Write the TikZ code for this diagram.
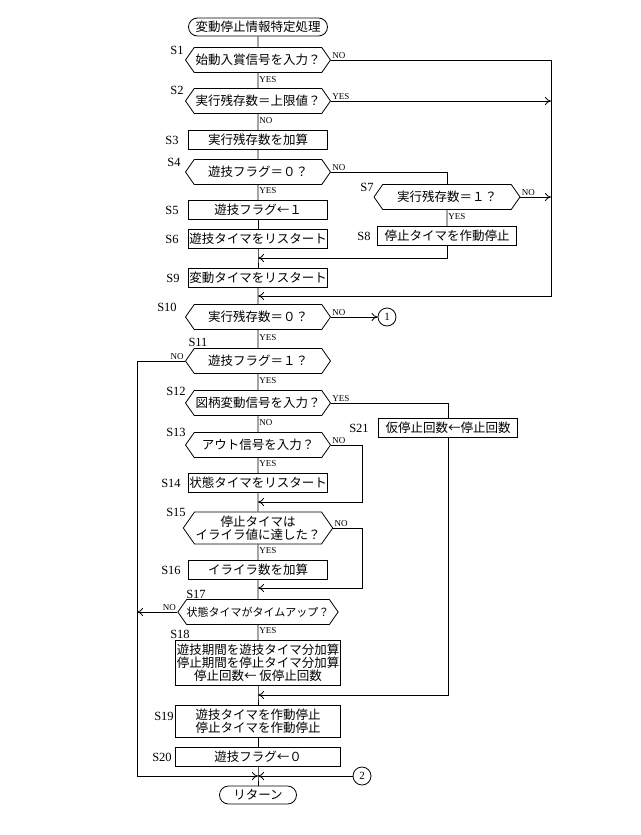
\documentclass[tikz,border=0pt]{standalone}
\usepackage{fontspec}
\setmainfont{Liberation Serif}
\newfontfamily\jp{Noto Sans CJK JP}
\usetikzlibrary{shapes.symbols, arrows.meta}

\tikzset{
	dec/.style={signal, signal to=east and west, signal pointer angle=110, draw, font=\jp\fontsize{12.5}{14}\selectfont, minimum width=145, minimum height=25, inner sep=1, align=center},
	proc/.style={draw, rectangle, font=\jp\fontsize{12.5}{14}\selectfont, minimum width=139, minimum height=19, inner sep=1, align=center},
	term/.style={draw, rectangle, rounded corners=9, font=\jp\fontsize{12.5}{14}\selectfont, minimum height=18, inner sep=1},
	conn/.style={draw, circle, minimum size=18, inner sep=0, font=\fontsize{11}{11}\selectfont},
	yn/.style={font=\fontsize{9}{9}\selectfont, inner sep=1},
	stepno/.style={font=\fontsize{12.5}{12}\selectfont, inner sep=0},
}

\begin{document}
\begin{tikzpicture}[x=1pt, y=-1pt, line width=0.8pt, >={To[length=6pt, width=8pt]}]
	\useasboundingbox (0,0) rectangle (640,835);
	
	\node[term, minimum width=139] (start) at (258,27) {変動停止情報特定処理};
	\node[dec] (s1) at (258,60) {始動入賞信号を入力？};
	\node[dec] (s2) at (258,101) {実行残存数＝上限値？};
	\node[proc] (s3) at (258,140) {実行残存数を加算};
	\node[dec] (s4) at (258,172) {遊技フラグ＝０？};
	\node[proc] (s5) at (258,210) {遊技フラグ←１};
	\node[proc] (s6) at (258,239) {遊技タイマをリスタート};
	\node[dec, minimum width=146] (s7) at (447,197) {実行残存数＝１？};
	\node[proc] (s8) at (447,236) {停止タイマを作動停止};
	\node[proc] (s9) at (258,278) {変動タイマをリスタート};
	\node[dec] (s10) at (258,317) {実行残存数＝０？};
	\node[conn] (c1) at (387,317) {1};
	\node[dec] (s11) at (258,361) {遊技フラグ＝１？};
	\node[dec] (s12) at (258,403) {図柄変動信号を入力？};
	\node[proc] (s21) at (448,428) {仮停止回数←停止回数};
	\node[dec] (s13) at (258,445) {アウト信号を入力？};
	\node[proc] (s14) at (258,483) {状態タイマをリスタート};
	\node[dec, minimum height=32, font=\jp\fontsize{12.5}{13}\selectfont] (s15) at (258,528) {停止タイマは\\イライラ値に達した？};
	\node[proc] (s16) at (258,570) {イライラ数を加算};
	\node[dec, inner xsep=0, font=\jp\fontsize{11}{13}\selectfont] (s17) at (258,612) {状態タイマがタイムアップ？};
	\node[proc, minimum width=165, minimum height=45, font=\jp\fontsize{12.5}{13}\selectfont] (s18) at (258,663) {遊技期間を遊技タイマ分加算\\停止期間を停止タイマ分加算\\停止回数← 仮停止回数};
	\node[proc, minimum width=165, minimum height=32, font=\jp\fontsize{12.5}{13}\selectfont] (s19) at (258,721) {遊技タイマを作動停止\\停止タイマを作動停止};
	\node[proc, minimum width=165] (s20) at (258,757) {遊技フラグ←０};
	\node[conn] (c2) at (362,776) {2};
	\node[term, minimum width=77] (ret) at (258,795) {リターン};
	
	% step numbers
	\foreach \n/\x/\y in {1/177/50, 2/177/90, 3/172/140, 4/174/162, 5/172/210, 6/172/239, 7/367/187, 8/364/236, 9/173/278, 10/167/307, 11/198/342, 12/176/391, 13/176/432, 14/171/483, 15/176/512, 16/171/570, 17/196/594, 18/180/634, 19/164/716, 20/162/757, 21/359/428}
		\node[stepno] (l\n) at (\x,\y) {S\n};
	
	\coordinate (j1) at (258,258);
	\coordinate (j2) at (258,296);
	\coordinate (j3) at (258,502);
	\coordinate (j4) at (258,588);
	\coordinate (j5) at (258,695);
	\coordinate (j6) at (258,776);
	\coordinate (r1) at (551,296);
	\coordinate (r3) at (362,502);
	\coordinate (r4) at (362,588);
	\coordinate (l1) at (137,776);
	
	% main line
	\draw (start) -- (s1);
	\draw (s1) -- node[yn, right, pos=0.45] {YES} (s2);
	\draw (s2) -- node[yn, right, pos=0.4] {NO} (s3);
	\draw (s3) -- (s4);
	\draw (s4) -- node[yn, right, pos=0.4] {YES} (s5);
	\draw (s5) -- (s6);
	\draw (s6) -- (j1) -- (s9);
	\draw (s9) -- (j2) -- (s10);
	\draw (s10) -- node[yn, right, pos=0.4] {YES} (s11);
	\draw (s11) -- node[yn, right, pos=0.4] {YES} (s12);
	\draw (s12) -- node[yn, right, pos=0.4] {NO} (s13);
	\draw (s13) -- node[yn, right, pos=0.4] {YES} (s14);
	\draw (s14) -- (j3) -- (s15);
	\draw (s15) -- node[yn, right, pos=0.4] {YES} (s16);
	\draw (s16) -- (j4) -- (s17);
	\draw (s17) -- node[yn, right, pos=0.35] {YES} (s18);
	\draw (s18) -- (j5) -- (s19);
	\draw (s19) -- (s20);
	\draw (s20) -- (j6) -- (ret);
	
	% branches
	\draw[->] (s1.east) node[yn, above right] {NO} -| (r1) -- (j2);
	\draw[->] (s2.east) node[yn, above right] {YES} -- (s2.east -| r1);
	\draw (s4.east) node[yn, above right] {NO} -| (s7.north);
	\draw[->] (s7.east) node[yn, above right] {NO} -- (s7.east -| r1);
	\draw (s7) -- node[yn, right, pos=0.4] {YES} (s8);
	\draw[->] (s8.south) |- (j1);
	\draw[->] (s10.east) node[yn, above right] {NO} -- (c1);
	\draw[->] (s11.west) node[yn, above left] {NO} -| (l1) -- (j6);
	\draw (s12.east) node[yn, above right] {YES} -| (s21.north);
	\draw[->] (s21.south) |- (j5);
	\draw[->] (s13.east) node[yn, above right] {NO} -| (r3) -- (j3);
	\draw[->] (s15.east) node[yn, above right] {NO} -| (r4) -- (j4);
	\draw[->] (s17.west) node[yn, above left] {NO} -- (s17.west -| l1);
	\draw[->] (c2) -- (j6);
\end{tikzpicture}
\end{document}
